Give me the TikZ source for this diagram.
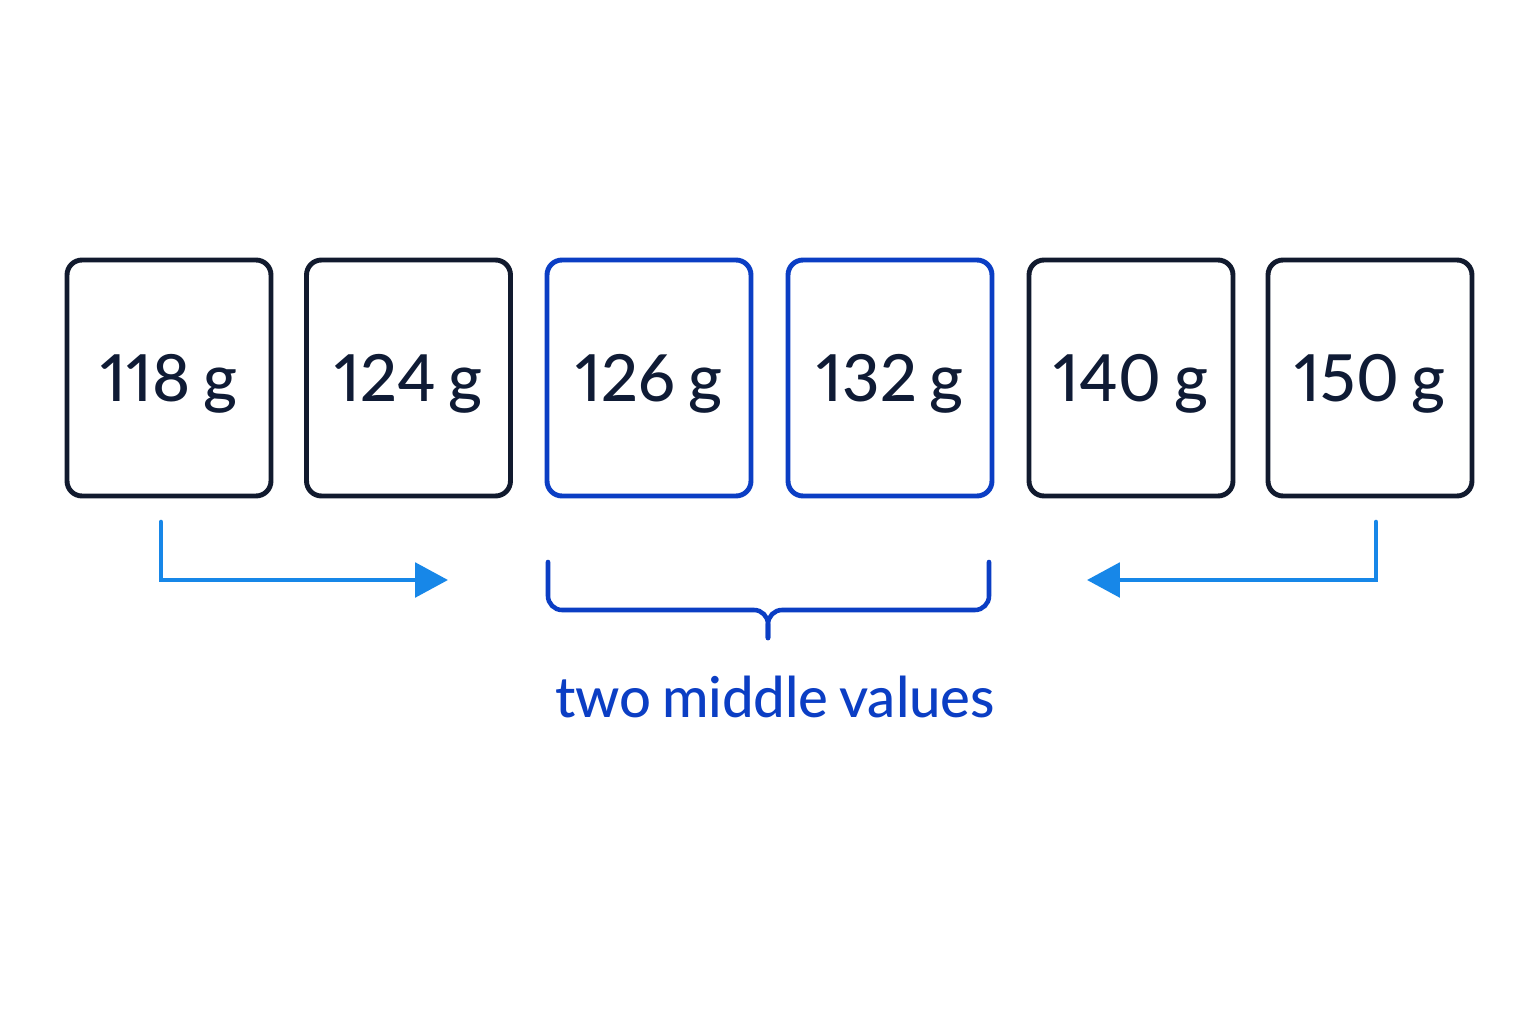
\documentclass[tikz,border=0pt]{standalone}
\usepackage{fontspec}
\setmainfont{Lato}[UprightFont=* Medium, Numbers=Proportional, WordSpace=0.75]
\usetikzlibrary{arrows.meta}
\definecolor{navy}{HTML}{111A2E}
\definecolor{textnavy}{HTML}{0F1B35}
\definecolor{midblue}{HTML}{0B3EC4}
\definecolor{arrowblue}{HTML}{1787E8}
\begin{document}
\begin{tikzpicture}[x=0.02cm,y=-0.02cm,
  valbox/.style={draw=navy, line width=2.8pt, rounded corners=8.5pt,
    minimum width=4.08cm, minimum height=4.72cm, inner sep=0pt, text depth=0pt,
    text=textnavy, font=\fontsize{37pt}{44pt}\selectfont},
  midbox/.style={valbox, draw=midblue},
  flow/.style={draw=arrowblue, line width=2.6pt, line cap=round,
    -{Triangle[length=18.7pt, width=19.5pt]}},
  bracepath/.style={draw=midblue, line width=2.6pt, line cap=round, rounded corners=8pt}]
\useasboundingbox (0,0) rectangle (1536,1024);
\fill[white] (0,0) rectangle (1536,1024);
\node[valbox] (b1) at (169,378) {118 g};
\node[valbox] (b2) at (408.5,378) {124 g};
\node[midbox] (b3) at (649,378) {126 g};
\node[midbox] (b4) at (890,378) {132 g};
\node[valbox] (b5) at (1131,378) {140 g};
\node[valbox] (b6) at (1370,378) {150 g};
\coordinate (a1s) at (161,522);
\coordinate (a1e) at (448,580);
\coordinate (a2s) at (1376,522);
\coordinate (a2e) at (1087,580);
\draw[flow] (a1s) |- (a1e);
\draw[flow] (a2s) |- (a2e);
\coordinate (brl) at (548,562);
\coordinate (brr) at (989,562);
\coordinate (brm) at (768,610);
\coordinate (brt) at (768,638);
\draw[bracepath] (brl) |- (brm) -- (brt);
\draw[bracepath] (brr) |- (brm) -- (brt);
\node[text=midblue, font=\fontsize{32pt}{38pt}\selectfont, anchor=base] (lbl) at (775,717) {two middle values};
\end{tikzpicture}
\end{document}
